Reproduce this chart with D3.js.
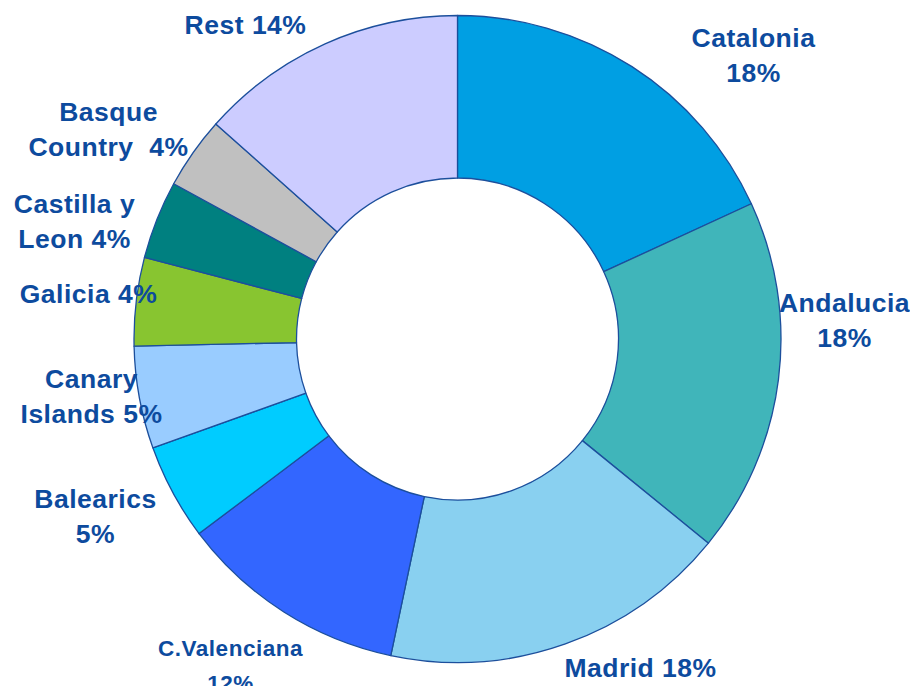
<!DOCTYPE html>
<html>
<head>
<meta charset="utf-8">
<script src="https://cdn.jsdelivr.net/npm/d3@7"></script>
<style>
  body { margin: 0; background: #fff; }
  text { font-family: "Liberation Sans", Arial, sans-serif; font-weight: bold; white-space: pre; letter-spacing: 0.5px; }
</style>
</head>
<body>
<div id="chart"></div>
<script>
//regions in drawing order, clockwise from 12 o'clock
var regions = ["Catalonia", "Andalucia", "Madrid", "C.Valenciana", "Balearics",
  "Canary Islands", "Galicia", "Castilla y Leon", "Basque Country", "Rest"];

//share of each region (%)
var shares = [18.1, 17.7, 17.4, 11.4, 4.8, 5.1, 4.4, 3.9, 3.6, 13.4];

//label text as it is shown, one entry per line
var labelLines = [
  ["Catalonia", "18%"],
  ["Andalucia", "18%"],
  ["Madrid 18%"],
  ["C.Valenciana", "12%"],
  ["Balearics", "5%"],
  ["Canary", "Islands 5%"],
  ["Galicia 4%"],
  ["Castilla y", "Leon 4%"],
  ["Basque", "Country  4%"],
  ["Rest 14%"]
];

//slice colours
var colours = ["#009fe3", "#40b5ba", "#89d0f0", "#3366ff", "#00ccff",
  "#99ccff", "#88c530", "#008080", "#c0c0c0", "#ccccff"];

//label anchors, offset from the centre of the ring (hand placed like the original)
var labelOffsets = [[296, -292], [387, -27], [183, 338], [-227, 317], [-362, 169],
  [-366, 49], [-369, -36], [-383, -126], [-349, -218], [-212, -305]];

var width = 910, height = 686;
var cx = 457.5, cy = 339;
var outerR = 323.5, innerR = 161;

var svg = d3.select("#chart").append("svg")
  .attr("width", width)
  .attr("height", height);

var group = svg.append("g")
  .attr("transform", "translate(" + cx + "," + cy + ")");

var arcGenerator = d3.arc()
  .innerRadius(innerR)
  .outerRadius(outerR);

//keep the order, no sorting
var pieGenerator = d3.pie()
  .sort(null)
  .value(function(d) { return d; });

var slices = pieGenerator(shares);

group.selectAll("path")
  .data(slices)
  .enter()
  .append("path")
  .attr("d", arcGenerator)
  .attr("fill", function(d, i) { return colours[i]; })
  .attr("stroke", "#1c4f9c")
  .attr("stroke-width", 1.3)
  .attr("stroke-linejoin", "round");

//labels go on top of the ring
var labels = group.selectAll(".label")
  .data(regions)
  .enter()
  .append("text")
  .attr("class", "label")
  .attr("text-anchor", "middle")
  .attr("fill", "#0d4b9e")
  .style("font-size", function(d) { return d === "C.Valenciana" ? "22.5px" : "26.5px"; })
  .attr("transform", function(d, i) {
    return "translate(" + labelOffsets[i][0] + "," + labelOffsets[i][1] + ")";
  });

labels.each(function(d, i) {
  var t = d3.select(this);
  labelLines[i].forEach(function(line, j) {
    t.append("tspan")
      .attr("x", 0)
      .attr("y", j * 35)
      .text(line);
  });
});
</script>
</body>
</html>
